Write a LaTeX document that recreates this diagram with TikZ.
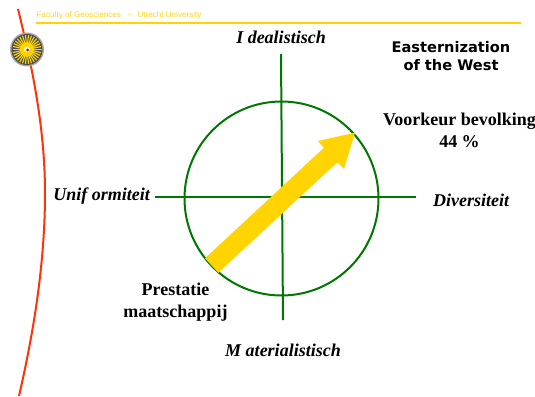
\documentclass[tikz,border=0pt]{standalone}
\usepackage{fontspec}
\setmainfont{Liberation Serif}
\newfontfamily\arialf{Liberation Sans}
\newfontfamily\verdf{DejaVu Sans}
\definecolor{uugold}{RGB}{255,212,0}
\definecolor{uugreen}{RGB}{0,120,0}
\definecolor{uured}{RGB}{255,50,10}
\tikzset{
 axis/.style={draw=uugreen,line width=2pt},
 lab/.style={font=\bfseries\itshape\fontsize{18}{20}\selectfont,inner sep=0pt,text=black},
 blk/.style={font=\bfseries\fontsize{18}{22}\selectfont,inner sep=0pt,align=center,text=black},
 ttl/.style={font=\verdf\bfseries\fontsize{14.6}{18}\selectfont,inner sep=0pt,align=center,text=black},
 hdr/.style={font=\arialf\fontsize{8.1}{9}\selectfont,inner sep=0pt,anchor=west,text=uugold!90!white}
}
\begin{document}
\begin{tikzpicture}[x=1pt,y=-1pt]
\useasboundingbox (0,0) rectangle (535,396);
\fill[white] (0,0) rectangle (535,396);
\draw[uured,line width=2pt] (18,9) .. controls (33,70) and (45,130) .. (45,193) .. controls (45,265) and (33,335) .. (19,396);
\draw[uugold,line width=1.5pt] (36,23) -- (521,23);
\node[hdr] (h) at (36.5,15) {Faculty of Geosciences\ \ \ --\ \ Utrecht University};
\fill[gray!70] (27,49.5) circle (17);
\fill[black!70] (27,49.5) circle (15.5);
\foreach \a in {0,12,...,348}{\draw[uugold,line width=1.1pt] (27,49.5) -- +(\a:14.5);}
\fill[uugold] (27,49.5) circle (7);
\fill[white] (27,49.5) circle (2.8);
\fill[red!75!black] (27.5,50) circle (1.5);
\coordinate (top) at (281,54);
\coordinate (bot) at (283,320);
\coordinate (lft) at (155,197);
\coordinate (rgt) at (416,197);
\node[circle,draw=uugreen,line width=2pt,minimum size=194pt,inner sep=0pt] (c) at (281.5,198.5) {};
\draw[axis] (top) -- (bot);
\draw[axis] (lft) -- (rgt);
\fill[uugold] (205,258.3) -- (324,147.7) -- (317.7,141) -- (355,132.7) -- (344,169) -- (337.3,162.3) -- (218.3,272.7) -- cycle;
\node[lab] (i) at (281,37) {I dealistisch};
\node[lab] (m) at (283,350) {M aterialistisch};
\node[lab,anchor=east] (u) at (150,196) {Unif ormiteit};
\node[lab,anchor=west] (d) at (433,200) {Diversiteit};
\node[ttl] (e) at (451,56) {Easternization\\of the West};
\node[blk] (v) at (459.5,130.5) {Voorkeur bevolking\\44 \%};
\node[blk] (p) at (175.5,302) {Prestatie\\maatschappij};
\end{tikzpicture}
\end{document}
